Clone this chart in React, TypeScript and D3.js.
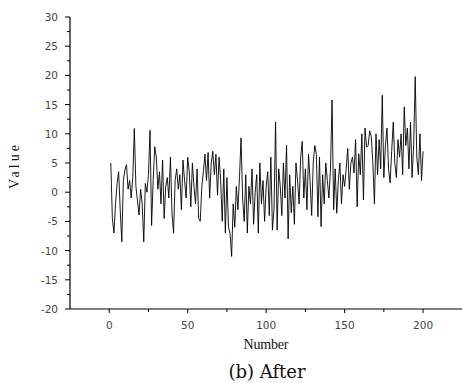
import React from "react";
import * as d3 from "d3";

const values: number[] = [
  5.0, -4.5, -7.0, -2.0, 1.5, 3.5, -3.0, -8.5, 2.0, 3.8,
  4.7, 0.5, 2.0, -1.0, 2.5, 10.9, 1.0, -1.5, -3.9, 0.5,
  -2.0, -8.5, 1.5, 0.0, 3.0, 10.6, -5.7, 2.0, 7.8, 6.0,
  0.5, 3.5, -2.0, 5.5, -4.5, 1.0, 2.5, -1.0, 6.0, -3.5,
  -7.0, 2.0, 4.0, 0.5, 3.0, -3.0, 5.5, 2.0, -1.0, 6.0,
  3.5, -2.5, 5.0, 1.0, -2.0, 4.0, -4.5, -5.0, 1.0, 3.5,
  6.5, 2.0, 6.8, -1.0, 5.0, 7.0, 3.0, 6.5, -0.5, 6.0,
  2.0, -5.0, 4.0, -7.0, 2.5, -6.0, -7.0, -11.0, -2.0, -6.0,
  1.0, -3.0, 2.5, 9.3, -1.0, -5.0, 3.0, -7.0, 1.0, -2.0,
  4.0, -5.5, 0.0, 3.0, -7.0, 5.0, -2.0, 2.0, -5.0, 1.0,
  3.5, -4.0, 6.0, -6.5, -3.0, 12.0, -6.5, 4.0, 1.0, -4.0,
  5.0, -1.0, 8.0, -8.0, 3.0, -3.5, 1.0, -5.5, 5.0, 2.0,
  -2.0, 6.0, 8.7, -1.0, 4.0, -3.0, 6.5, 2.0, -4.0, 5.0,
  8.0, 6.5, -4.2, 6.0, -5.9, 3.0, -2.0, 5.0, 2.0, -1.0,
  4.0, 15.8, -3.0, 4.0, -3.6, 2.0, 5.0, -2.0, 3.0, 1.0,
  4.0, 7.5, 0.5, 5.0, 6.0, 3.3, 9.0, -2.5, 6.6, 3.0,
  10.0, -1.3, 11.0, 7.7, 8.0, 10.5, 9.5, 5.0, -2.0, 10.0,
  3.0, 9.0, 4.0, 16.6, 2.5, 8.0, 11.0, 4.0, 1.6, 7.0,
  12.0, 5.0, 2.5, 9.0, 6.0, 10.0, 3.0, 14.6, 8.0, 11.0,
  4.0, 12.0, 2.5, 8.0, 19.8, 6.0, 3.0, 10.0, 2.0, 7.0,
];

const xMajorTicks = [0, 50, 100, 150, 200];
const xMinorTicks = [25, 75, 125, 175];
const yMajorTicks = [-20, -15, -10, -5, 0, 5, 10, 15, 20, 25, 30];
const yMinorTicks = [-17.5, -12.5, -7.5, -2.5, 2.5, 7.5, 12.5, 17.5, 22.5, 27.5];

const xLabel = "Number";
const yLabel = "Value";
const caption = "(b) After";

export default function App() {
  const W = 462;
  const H = 383;
  const x = d3.scaleLinear().domain([-25, 225]).range([70, 462.3]);
  const y = d3.scaleLinear().domain([-20, 30]).range([309, 17]);
  const line = d3
    .line<number>()
    .x((_, i) => x(i + 1))
    .y((d) => y(d));
  const tickFont = "DejaVu Sans, sans-serif";
  const x0 = x(-25);
  const y0 = y(-20);
  return (
    <div style={{ position: "absolute", left: 0, top: 0 }}>
      <svg width={W} height={H} style={{ display: "block", background: "#fff" }}>
        <rect x={0} y={0} width={W} height={H} fill="#fff" />
        <path d={line(values) || ""} fill="none" stroke="#000" strokeWidth={0.9} strokeLinejoin="miter" />
        <line x1={x0} x2={x0} y1={y(30)} y2={y0} stroke="#000" strokeWidth={1.2} />
        <line x1={x0} x2={462} y1={y0} y2={y0} stroke="#000" strokeWidth={1.2} />
        {yMajorTicks.map((t) => (
          <g key={"ym" + t}>
            <line x1={x0 - 5} x2={x0} y1={y(t)} y2={y(t)} stroke="#000" strokeWidth={1} />
            <text x={x0 - 12} y={y(t) + 4} textAnchor="end" fontFamily={tickFont} fontSize={10.5} fill="#444">
              {t}
            </text>
          </g>
        ))}
        {yMinorTicks.map((t) => (
          <line key={"yn" + t} x1={x0 - 3} x2={x0} y1={y(t)} y2={y(t)} stroke="#000" strokeWidth={1} />
        ))}
        {xMajorTicks.map((t) => (
          <g key={"xm" + t}>
            <line x1={x(t)} x2={x(t)} y1={y0} y2={y0 + 4} stroke="#000" strokeWidth={1} />
            <text x={x(t)} y={y0 + 20} textAnchor="middle" fontFamily={tickFont} fontSize={10.5} fill="#444">
              {t}
            </text>
          </g>
        ))}
        {xMinorTicks.map((t) => (
          <line key={"xn" + t} x1={x(t)} x2={x(t)} y1={y0} y2={y0 + 3} stroke="#000" strokeWidth={1} />
        ))}
        <text
          x={266}
          y={349}
          textAnchor="middle"
          fontFamily="Liberation Serif, serif"
          fontSize={14}
          fill="#111"
          textLength={45}
        >
          {xLabel}
        </text>
        <text
          transform={`translate(19, 167) rotate(-90)`}
          textAnchor="middle"
          fontFamily="Liberation Serif, serif"
          fontSize={14}
          fill="#111"
          textLength={44}
        >
          {yLabel}
        </text>
        <text x={267} y={378} textAnchor="middle" fontFamily="DejaVu Serif, serif" fontSize={18} fill="#111">
          {caption}
        </text>
      </svg>
    </div>
  );
}
